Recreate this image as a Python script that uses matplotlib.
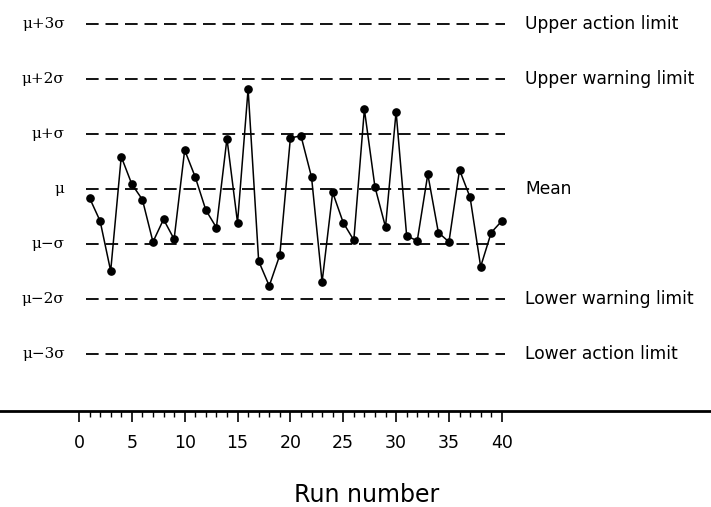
"""
Control chart: run number against mean / warning / action limits
"""

import matplotlib
matplotlib.use('Agg')
import matplotlib.pyplot as plt
from matplotlib.ticker import FixedLocator

# Run values, in units of sigma away from the mean
runs = list(range(1, 41))
values = [-0.16, -0.58, -1.49, 0.59, 0.09, -0.19, -0.96, -0.55, -0.91, 0.71,
          0.22, -0.38, -0.70, 0.92, -0.61, 1.82, -1.31, -1.76, -1.20, 0.93,
          0.97, 0.22, -1.69, -0.06, -0.61, -0.93, 1.45, 0.04, -0.69, 1.41,
          -0.85, -0.94, 0.27, -0.79, -0.96, 0.35, -0.15, -1.41, -0.79, -0.58]

# Limit lines (sigma units) and their labels
levels = [3, 2, 1, 0, -1, -2, -3]
left_labels = ['μ+3σ', 'μ+2σ', 'μ+σ', 'μ', 'μ−σ', 'μ−2σ', 'μ−3σ']
right_labels = ['Upper action limit', 'Upper warning limit', '', 'Mean', '',
                'Lower warning limit', 'Lower action limit']

major_ticks = [0, 5, 10, 15, 20, 25, 30, 35, 40]
minor_ticks = list(range(0, 41))


def create_control_chart(output='out.png'):
    fig = plt.figure(figsize=(7.11, 5.07), dpi=100)
    ax = fig.add_axes([0, 0.19, 1, 0.81])
    ax.set_xlim(-7.47, 59.79)
    ax.set_ylim(-4.03, 3.44)

    # Dashed limit lines with labels either side
    for level, left, right in zip(levels, left_labels, right_labels):
        ax.plot([0.65, 40.3], [level, level], color='black', linewidth=1.3,
                dashes=(7, 3.8))
        ax.text(-1.35, level, left, ha='right', va='center',
                fontsize=11, family='DejaVu Serif')
        if right:
            ax.text(42.2, level, right, ha='left', va='center',
                    fontsize=12.3, family='DejaVu Sans')

    # The runs
    ax.plot(runs, values, color='black', linewidth=1.1, marker='o',
            markersize=5.2)

    # Axis styling: only the bottom line with ticks from 0 to 40
    for side in ['left', 'top', 'right']:
        ax.spines[side].set_visible(False)
    ax.spines['bottom'].set_linewidth(2)
    ax.set_yticks([])
    ax.xaxis.set_major_locator(FixedLocator(major_ticks))
    ax.xaxis.set_minor_locator(FixedLocator(minor_ticks))
    ax.tick_params(axis='x', which='major', length=8, width=1.2,
                   pad=9, labelsize=12.5)
    ax.tick_params(axis='x', which='minor', length=4.3, width=1)

    fig.text(367 / 711, 0.0093, 'Run number', ha='center', va='baseline',
             fontsize=17, family='DejaVu Sans')

    fig.savefig(output, dpi=100)
    plt.close(fig)


if __name__ == "__main__":
    create_control_chart()
